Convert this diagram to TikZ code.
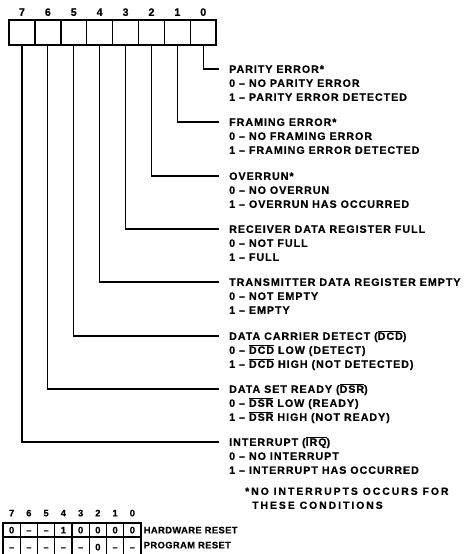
\documentclass[tikz,border=0pt]{standalone}
\usepackage{fontspec}
\setmainfont{Liberation Sans}
\newfontfamily\regfont[LetterSpace=9,BoldFeatures={FakeBold=0.6}]{Liberation Sans}
\newfontfamily\notefont[LetterSpace=19,BoldFeatures={FakeBold=0.6}]{Liberation Sans}
\newfontfamily\tabfont[LetterSpace=4,BoldFeatures={FakeBold=0.5}]{Liberation Sans}
\usetikzlibrary{positioning}
\newcommand{\ovl}[1]{$\overline{\mbox{#1}}$}
\newcommand{\dsh}{\textendash}
\tikzset{
  regcell/.style={draw,line width=1.5pt,minimum width=25.9pt,minimum height=25pt,inner sep=0pt},
  lbl/.style={anchor=west,inner sep=0pt,text height=7.7pt,text depth=0pt,font=\regfont\bfseries\fontsize{10.7}{13}\selectfont},
  notelbl/.style={lbl,font=\notefont\bfseries\fontsize{10.4}{13}\selectfont},
  lead/.style={line width=1.1pt},
  tabcell/.style={draw,line width=1.1pt,minimum width=17.25pt,inner sep=0pt,text height=6.7pt,text depth=0pt,font=\tabfont\bfseries\fontsize{9.4}{11}\selectfont},
  tablbl/.style={anchor=west,inner sep=0pt,text height=6.7pt,text depth=0pt,font=\tabfont\bfseries\fontsize{9.4}{11}\selectfont},
}
\begin{document}
\begin{tikzpicture}[x=1pt,y=-1pt]
\useasboundingbox (0,0) rectangle (469,554);
% ---- status register, bit 7 on the left ----
\foreach \b in {0,...,7}{
  \node[regcell] (b\b) at ({9+25.9*(7.5-\b)},32.5) {};
  \node[lbl,anchor=center] (n\b) at ({9+25.9*(7.5-\b)},12) {\b};
}
% ---- bit meanings ----
\foreach \b/\yy/\head/\zero/\one in {
  0/69/{PARITY ERROR*}/{NO PARITY ERROR}/{PARITY ERROR DETECTED},
  1/122/{FRAMING ERROR*}/{NO FRAMING ERROR}/{FRAMING ERROR DETECTED},
  2/176/{OVERRUN*}/{NO OVERRUN}/{OVERRUN HAS OCCURRED},
  3/229/{RECEIVER DATA REGISTER FULL}/{NOT FULL}/{FULL},
  4/282/{TRANSMITTER DATA REGISTER EMPTY}/{NOT EMPTY}/{EMPTY},
  5/336/{DATA CARRIER DETECT (\ovl{DCD})}/{\ovl{DCD} LOW (DETECT)}/{\ovl{DCD} HIGH (NOT DETECTED)},
  6/389/{DATA SET READY (\ovl{DSR})}/{\ovl{DSR} LOW (READY)}/{\ovl{DSR} HIGH (NOT READY)},
  7/442/{INTERRUPT (\ovl{IRQ})}/{NO INTERRUPT}/{INTERRUPT HAS OCCURRED}}{
  \node[lbl] (h\b) at (229,\yy) {\head};
  \node[lbl] (z\b) at (229,\yy+14) {0 \dsh{} \zero};
  \node[lbl] (o\b) at (229,\yy+28) {1 \dsh{} \one};
  \draw[lead] (b\b.south) |- ([xshift=-10pt]h\b.west);
}
% footnote
\node[notelbl] (fn1) at (245,491) {*NO INTERRUPTS OCCURS FOR};
\node[notelbl] (fn2) at (252,505) {THESE CONDITIONS};
% ---- reset values ----
\foreach \v [count=\i from 0] in {0,\dsh,\dsh,1,0,0,0,0}{
  \node[tablbl,anchor=center] (t\i) at ({3+17.25*(\i+0.5)},513) {\pgfmathtruncatemacro\bb{7-\i}\bb};
  \node[tabcell,minimum height=14pt] (hw\i) at ({3+17.25*(\i+0.5)},530) {\v};
}
\foreach \v [count=\i from 0] in {\dsh,\dsh,\dsh,\dsh,\dsh,0,\dsh,\dsh}{
  \node[tabcell,minimum height=20pt] (pr\i) at ({3+17.25*(\i+0.5)},547) {\v};
}
\node[tablbl,right=2pt of hw7] (hwr) {HARDWARE RESET};
\node[tablbl] (prr) at (hwr.west |- 0,545) {PROGRAM RESET};
\end{tikzpicture}
\end{document}
